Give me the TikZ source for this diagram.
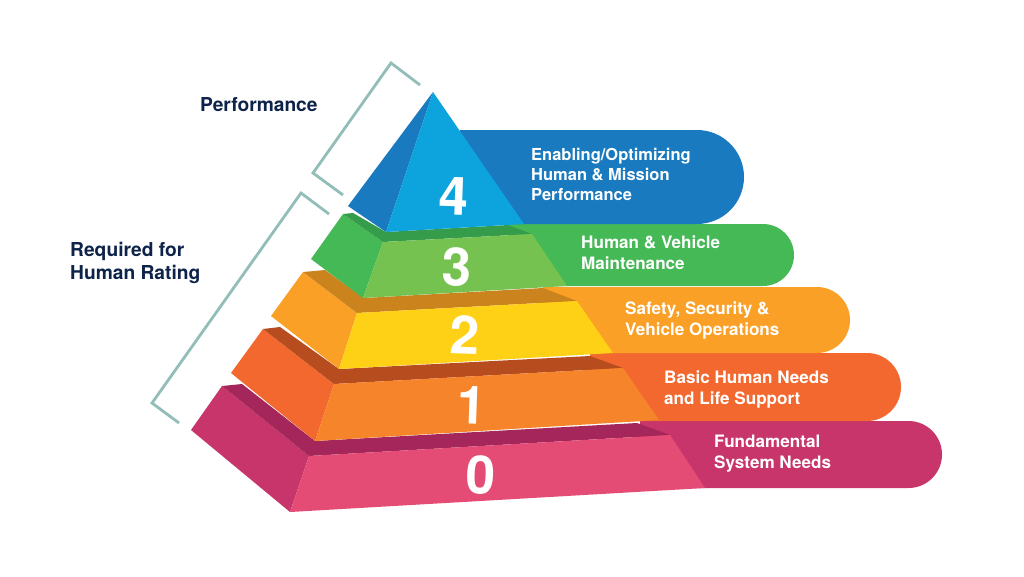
\documentclass[tikz,border=0pt]{standalone}
\usepackage{fontspec}
\setmainfont{TeX Gyre Heros}
\definecolor{navy}{HTML}{0D2349}
\definecolor{bracket}{HTML}{93BDB8}
\definecolor{blueside}{HTML}{1A7ABF}
\definecolor{bluefront}{HTML}{0DA3DC}
\definecolor{greenside}{HTML}{45B955}
\definecolor{greenfront}{HTML}{76C251}
\definecolor{greentop}{HTML}{359C4B}
\definecolor{amberside}{HTML}{FAA026}
\definecolor{amberfront}{HTML}{FFD116}
\definecolor{ambertop}{HTML}{CB841D}
\definecolor{rustside}{HTML}{F3682F}
\definecolor{rustfront}{HTML}{F6842A}
\definecolor{rusttop}{HTML}{B74C1E}
\definecolor{pinkside}{HTML}{C7356A}
\definecolor{pinkfront}{HTML}{E54C75}
\definecolor{pinktop}{HTML}{A4265A}

\begin{document}
\begin{tikzpicture}
[x=1pt, y=-1pt, every node/.style={inner sep=0pt},
 digit/.style={font=\fontsize{53}{53}\selectfont\bfseries, text=white, rotate=-2},
 bandtext/.style={anchor=west, align=left, text=white, font=\fontsize{17.1}{21}\selectfont\bfseries},
 sidetext/.style={anchor=west, align=left, text=navy, font=\fontsize{19.2}{23}\selectfont\bfseries},
 brace/.style={draw=bracket, line width=2.8pt, miter limit=4}]
\useasboundingbox [fill=white] (0,0) rectangle (1024,576);
% level 0
\fill [pinkside, rounded corners=33.5pt] (640,421) -- (942,421) -- (942,488) [sharp corners] -- (640,488) -- cycle;
\fill [pinkside] (222,386) -- (191,430) -- (290,512) -- (309,456) -- cycle;
\fill [pinktop] (222,386) -- (242,384) -- (315,441) -- (637,423) -- (670,435) -- (309,456) -- cycle;
\fill [pinkfront] (309,456) -- (670,435) -- (705,488) -- (290,512) -- cycle;
% level 1
\fill [rustside, rounded corners=34pt] (590,353) -- (901,353) -- (901,421) [sharp corners] -- (590,421) -- cycle;
\fill [rustside] (263,329) -- (231,373) -- (315,441) -- (334,384) -- cycle;
\fill [rusttop] (263,329) -- (280,327) -- (339,369) -- (590,356) -- (623,368) -- (334,384) -- cycle;
\fill [rustfront] (334,384) -- (623,368) -- (659,420) -- (315,441) -- cycle;
% level 2
\fill [amberside, rounded corners=33pt] (543,287) -- (850,287) -- (850,353) [sharp corners] -- (543,353) -- cycle;
\fill [amberside] (303,272) -- (271,316) -- (339,369) -- (357,313) -- cycle;
\fill [ambertop] (303,272) -- (325,270) -- (364,298) -- (543,288) -- (577,301) -- (357,313) -- cycle;
\fill [amberfront] (357,313) -- (577,301) -- (613,353) -- (339,369) -- cycle;
% level 3
\fill [greenside, rounded corners=31pt] (508,224) -- (794,224) -- (794,286) [sharp corners] -- (508,286) -- cycle;
\fill [greenside] (343,214) -- (311,259) -- (363,298) -- (383,242) -- cycle;
\fill [greentop] (343,214) -- (353,213) -- (386,232) -- (508,225) -- (532,234) -- (383,242) -- cycle;
\fill [greenfront] (383,242) -- (532,234) -- (567,286) -- (363,298) -- cycle;
% level 4
\fill [blueside, rounded corners=47pt] (460,130) -- (744,130) -- (744,224) [sharp corners] -- (460,224) -- cycle;
\fill [blueside] (433,92) -- (348,206) -- (386,232) -- cycle;
\fill [bluefront] (433,92) -- (524,224) -- (386,232) -- cycle;
% brackets
\draw [brace] (420,85) -- (391,63) -- (313,173) -- (343,195);
\draw [brace] (329,214) -- (301,193) -- (152,403) -- (179,423);
% numbers
\node (n4) [digit] at (454,196) {4};
\node (n3) [digit] at (457,267) {3};
\node (n2) [digit] at (465,335) {2};
\node (n1) [digit] at (472,405) {1};
\node (n0) [digit] at (481,475) {0};
% labels
\node (perf) [sidetext] at (200,105) {Performance};
\node (rate) [sidetext] at (70,263) {Required for\\Human Rating};
\node (t4) [bandtext, font=\fontsize{16.5}{20}\selectfont\bfseries] at (531,174) {Enabling/Optimizing\\Human \& Mission\\Performance};
\node (t3) [bandtext] at (581,253) {Human \& Vehicle\\Maintenance};
\node (t2) [bandtext] at (625,320) {Safety, Security \&\\Vehicle Operations};
\node (t1) [bandtext] at (664,389) {Basic Human Needs\\and Life Support};
\node (t0) [bandtext] at (714,454) {Fundamental\\System Needs};
\end{tikzpicture}
\end{document}
